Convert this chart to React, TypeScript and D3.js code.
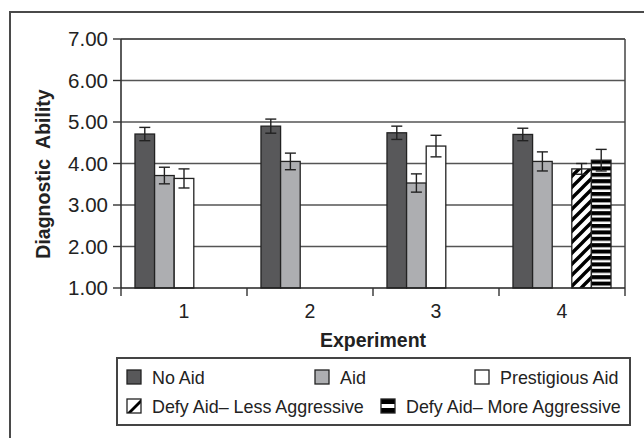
import * as d3 from 'd3';

const experiments = ['1', '2', '3', '4'];
const seriesNames = [
  'No Aid',
  'Aid',
  'Prestigious Aid',
  'Defy Aid– Less Aggressive',
  'Defy Aid– More Aggressive',
];
const noAid = [4.71, 4.9, 4.74, 4.7];
const noAidErr = [0.16, 0.17, 0.16, 0.15];
const aid = [3.71, 4.05, 3.53, 4.05];
const aidErr = [0.2, 0.2, 0.22, 0.23];
const prestigiousAid = [3.64, null, 4.42, null];
const prestigiousAidErr = [0.23, null, 0.26, null];
const defyLess = [null, null, null, 3.87];
const defyLessErr = [null, null, null, 0.13];
const defyMore = [null, null, null, 4.08];
const defyMoreErr = [null, null, null, 0.26];
const yTicks = [1, 2, 3, 4, 5, 6, 7];

const seriesValues = [noAid, aid, prestigiousAid, defyLess, defyMore];
const seriesErrors = [noAidErr, aidErr, prestigiousAidErr, defyLessErr, defyMoreErr];
const fills = ['#58585a', '#adaeb1', '#ffffff', 'url(#diag)', 'url(#horiz)'];

const W = 644;
const H = 438;
const plot = { left: 121, right: 625, top: 39, bottom: 288 };
const font = '"Liberation Sans", Arial, Helvetica, sans-serif';

export default function App() {
  const x = d3.scaleBand<string>()
    .domain(experiments)
    .range([plot.left, plot.right])
    .paddingInner(0.222)
    .paddingOuter(0.111);
  const xs = d3.scaleBand<string>()
    .domain(seriesNames)
    .range([0, x.bandwidth()]);
  const y = d3.scaleLinear().domain([1, 7]).range([plot.bottom, plot.top]);

  const step = x.step();
  const boundaries = d3.range(experiments.length + 1).map(i => plot.left + i * step);

  // legend layout (two rows, like the Excel legend)
  const legendItems = [
    { sx: 127, row: 0 },
    { sx: 315, row: 0 },
    { sx: 475, row: 0 },
    { sx: 127, row: 1 },
    { sx: 381, row: 1 },
  ];
  const rowY = [370, 399];

  return (
    <svg width={W} height={H} style={{ position: 'absolute', left: 0, top: 0, background: '#fff' }}
      fontFamily={font}>
      <defs>
        <pattern id="diag" patternUnits="userSpaceOnUse" width={11} height={11}>
          <rect width={11} height={11} fill="#fff" />
          <path d="M-2,13 L13,-2 M-7,7 L7,-7 M4,18 L18,4" stroke="#000" strokeWidth={3.4} />
        </pattern>
        <pattern id="horiz" patternUnits="userSpaceOnUse" width={10} height={6.4}>
          <rect width={10} height={6.4} fill="#fff" />
          <rect width={10} height={4} fill="#000" />
        </pattern>
        <pattern id="horizLeg" patternUnits="userSpaceOnUse" x={381} y={399} width={10} height={14}>
          <rect width={10} height={14} fill="#000" />
          <rect y={5} width={10} height={4} fill="#fff" />
        </pattern>
        <pattern id="diagLeg" patternUnits="userSpaceOnUse" x={127} y={399} width={14} height={14}>
          <rect width={14} height={14} fill="#fff" />
          <path d="M0,14 L14,0 L14,4 L4,14 Z" fill="#000" />
        </pattern>
      </defs>

      {/* outer frame */}
      <rect x={10} y={12} width={700} height={500} fill="none" stroke="#4a4a4a" strokeWidth={2} />

      {/* gridlines */}
      {yTicks.slice(1).map(t => (
        <line key={t} x1={plot.left} x2={plot.right} y1={y(t)} y2={y(t)}
          stroke={t === 7 ? '#222' : '#555'} strokeWidth={t === 7 ? 1.6 : 1.3} />
      ))}
      <line x1={plot.right} x2={plot.right} y1={plot.top} y2={plot.bottom} stroke="#444" strokeWidth={1.5} />

      {/* bars */}
      {seriesNames.map((s, si) => (
        <g key={s}>
          {experiments.map((e, ei) => {
            const v = seriesValues[si][ei];
            if (v == null) return null;
            const bx = (x(e) as number) + (xs(s) as number);
            const bw = xs.bandwidth();
            const err = seriesErrors[si][ei] as number;
            const cx = bx + bw / 2;
            return (
              <g key={e}>
                <rect x={bx} y={y(v)} width={bw} height={plot.bottom - y(v)}
                  fill={fills[si]} stroke="#222" strokeWidth={1.3} />
                <line x1={cx} x2={cx} y1={y(v + err)} y2={y(v - err)} stroke="#222" strokeWidth={1.4} />
                <line x1={cx - 5.5} x2={cx + 5.5} y1={y(v + err)} y2={y(v + err)} stroke="#222" strokeWidth={1.4} />
                <line x1={cx - 5.5} x2={cx + 5.5} y1={y(v - err)} y2={y(v - err)} stroke="#222" strokeWidth={1.4} />
              </g>
            );
          })}
        </g>
      ))}

      {/* axes */}
      <line x1={plot.left} x2={plot.left} y1={plot.top} y2={plot.bottom} stroke="#333" strokeWidth={1.6} />
      <line x1={plot.left} x2={plot.right} y1={plot.bottom} y2={plot.bottom} stroke="#222" strokeWidth={1.6} />
      {yTicks.map(t => (
        <g key={t}>
          <line x1={plot.left - 8} x2={plot.left} y1={y(t)} y2={y(t)} stroke="#333" strokeWidth={1.4} />
          <text x={108} y={y(t)} dy="0.36em" textAnchor="end" fontSize={20.5} fill="#222">
            {d3.format('.2f')(t)}
          </text>
        </g>
      ))}
      {boundaries.map((bx, i) => (
        <line key={i} x1={bx} x2={bx} y1={plot.bottom} y2={plot.bottom + 8} stroke="#333" strokeWidth={1.4} />
      ))}
      {experiments.map(e => (
        <text key={e} x={(x(e) as number) + x.bandwidth() / 2} y={318} textAnchor="middle" fontSize={19.5} fill="#222">
          {e}
        </text>
      ))}

      <text x={373} y={347} textAnchor="middle" fontSize={19.5} fontWeight="bold" fill="#222">
        Experiment
      </text>
      <text transform="translate(50,174) rotate(-90)" textAnchor="middle" fontSize={19.5} fontWeight="bold" fill="#222"
        style={{ whiteSpace: 'pre' }}>
        {'Diagnostic  Ability'}
      </text>

      {/* legend */}
      <rect x={117} y={358} width={513} height={67} fill="#fff" stroke="#444" strokeWidth={2} />
      {seriesNames.map((s, si) => {
        const it = legendItems[si];
        const sy = rowY[it.row];
        let fill = fills[si];
        if (si === 3) fill = 'url(#diagLeg)';
        if (si === 4) fill = 'url(#horizLeg)';
        return (
          <g key={s}>
            <rect x={it.sx} y={sy} width={14} height={14} fill={fill} stroke="#222" strokeWidth={1.3} />
            <text x={it.sx + 25} y={sy + 13.5} fontSize={17.9} fill="#222">{s}</text>
          </g>
        );
      })}
    </svg>
  );
}
